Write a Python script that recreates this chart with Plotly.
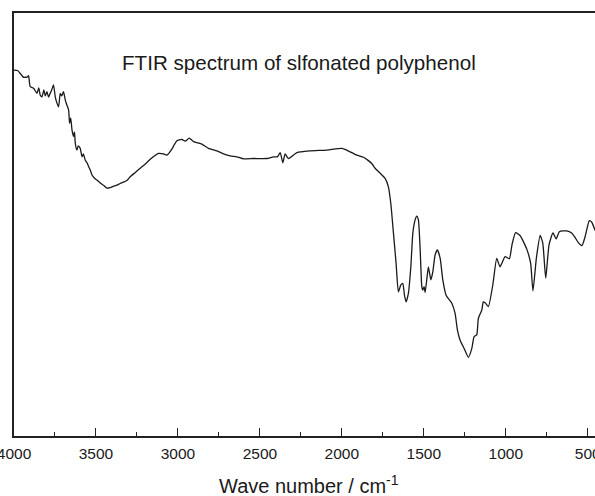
import plotly.graph_objects as go

wavenumber = [4000, 3978, 3941, 3917, 3911, 3901, 3880, 3860, 3849, 3840, 3829, 3818, 3809, 3799, 3789,
              3779, 3770, 3759, 3748, 3738, 3728, 3718, 3709, 3698, 3687, 3678, 3667, 3661, 3654, 3646,
              3637, 3631, 3626, 3616, 3608, 3596, 3585, 3577, 3565, 3553, 3545, 3535, 3524, 3510, 3494,
              3474, 3454, 3433, 3413, 3395, 3372, 3352, 3311, 3291, 3260, 3230, 3199, 3169, 3144, 3118,
              3088, 3067, 3037, 3023, 3006, 2976, 2955, 2931, 2905, 2854, 2813, 2762, 2722, 2681, 2640,
              2600, 2539, 2457, 2417, 2393, 2376, 2360, 2346, 2326, 2274, 2193, 2091, 2000, 1970, 1909,
              1868, 1838, 1815, 1797, 1766, 1736, 1716, 1701, 1685, 1669, 1655, 1640, 1628, 1618, 1608,
              1594, 1579, 1567, 1553, 1543, 1533, 1522, 1512, 1506, 1498, 1492, 1482, 1472, 1457, 1445,
              1431, 1417, 1400, 1384, 1364, 1329, 1309, 1295, 1279, 1254, 1228, 1207, 1193, 1177, 1167,
              1146, 1137, 1126, 1106, 1079, 1055, 1035, 1004, 978, 962, 940, 913, 888, 870, 848,
              834, 813, 790, 774, 756, 736, 712, 692, 673, 628, 598, 578, 557, 535, 516,
              490, 476, 455]

transmittance = [86.5, 86.4, 84.8, 84.9, 85.2, 82.6, 82.2, 81.0, 82.3, 80.6, 80.2, 81.8, 80.4, 81.4, 80.1,
                 81.0, 81.8, 83.0, 80.1, 78.7, 77.8, 81.0, 80.4, 81.4, 79.4, 78.3, 77.1, 73.9, 75.2, 72.3,
                 70.8, 71.9, 69.2, 67.6, 68.6, 68.0, 66.0, 66.7, 65.2, 64.5, 63.7, 62.9, 61.7, 61.0, 60.5,
                 59.8, 59.3, 58.6, 58.7, 59.0, 59.3, 59.7, 60.4, 61.3, 62.3, 63.3, 64.3, 65.4, 66.2, 66.8,
                 66.7, 66.4, 67.8, 68.8, 69.8, 70.1, 69.7, 70.4, 69.6, 69.0, 68.0, 67.4, 66.7, 66.2, 66.0,
                 65.5, 65.6, 65.6, 66.0, 66.0, 67.0, 64.6, 66.7, 65.6, 67.0, 67.4, 67.6, 68.0, 67.6, 66.4,
                 65.9, 65.1, 64.3, 63.3, 62.1, 60.9, 58.9, 54.9, 47.9, 40.8, 34.1, 35.7, 36.1, 33.3, 31.7,
                 33.7, 40.0, 47.9, 51.1, 52.0, 51.1, 44.0, 35.3, 34.5, 35.3, 33.9, 36.9, 40.0, 36.9, 38.8,
                 42.8, 44.0, 42.0, 36.9, 33.3, 31.4, 29.0, 25.1, 22.7, 20.7, 18.6, 20.7, 23.5, 23.9, 27.8,
                 29.8, 31.7, 31.5, 30.6, 35.7, 42.0, 40.0, 42.4, 41.9, 45.2, 48.1, 47.4, 45.6, 44.0, 40.8,
                 34.3, 42.1, 47.4, 45.6, 37.3, 45.2, 48.0, 46.6, 48.3, 48.5, 48.0, 47.0, 45.7, 45.0, 47.1,
                 50.9, 50.6, 48.6]

tick_values = [4000, 3500, 3000, 2500, 2000, 1500, 1000, 500]
tick_labels = ["4000", "3500", "3000", "2500", "2000", "1500", "1000", "500"]
minor_values = [3750, 3250, 2750, 2250, 1750, 1250, 750]

chart_title = "FTIR spectrum of slfonated polyphenol"
x_title = "Wave number / cm<sup>-1</sup>"

FONT = "Liberation Sans, Arial, sans-serif"

fig = go.Figure()
fig.add_trace(go.Scatter(
    x=wavenumber, y=transmittance, mode="lines",
    line=dict(color="#1a1a1a", width=1.3, shape="spline", smoothing=0.5),
    hoverinfo="skip", showlegend=False,
))

fig.update_layout(
    template="none",
    width=595, height=496,
    margin=dict(l=14, r=0, t=13, b=60),
    paper_bgcolor="white", plot_bgcolor="white",
    font=dict(family=FONT, color="#1a1a1a"),
    showlegend=False,
    annotations=[
        dict(text=chart_title, xref="paper", yref="paper", x=0.49, y=0.883,
             xanchor="center", yanchor="middle", showarrow=False,
             font=dict(family=FONT, size=20.6, color="#1a1a1a")),
        dict(text=x_title, xref="paper", yref="paper", x=0.508, y=-0.1145,
             xanchor="center", yanchor="middle", showarrow=False,
             font=dict(family=FONT, size=20, color="#1a1a1a")),
    ],
)

fig.update_xaxes(
    range=[4000, 455.5], autorange=False,
    tickmode="array", tickvals=tick_values, ticktext=tick_labels,
    ticks="inside", ticklen=8, tickwidth=1.3, tickcolor="#222",
    minor=dict(ticks="inside", ticklen=4, tickwidth=1.3, tickcolor="#222",
               tickmode="array", tickvals=minor_values),
    showline=True, linecolor="#222", linewidth=1.5, mirror=True,
    showgrid=False, zeroline=False, automargin=False,
    tickfont=dict(family=FONT, size=15.5, color="#1a1a1a"),
    ticklabelstandoff=3, ticklabeloverflow="allow",
)
fig.update_yaxes(
    range=[0, 100], autorange=False,
    showline=True, linecolor="#222", linewidth=1.5, mirror=False,
    ticks="", showticklabels=False, showgrid=False, zeroline=False, automargin=False,
)

fig.write_html("out.html", config={"displayModeBar": False},
               post_script="document.body.style.margin='0';document.body.style.overflow='hidden';")
